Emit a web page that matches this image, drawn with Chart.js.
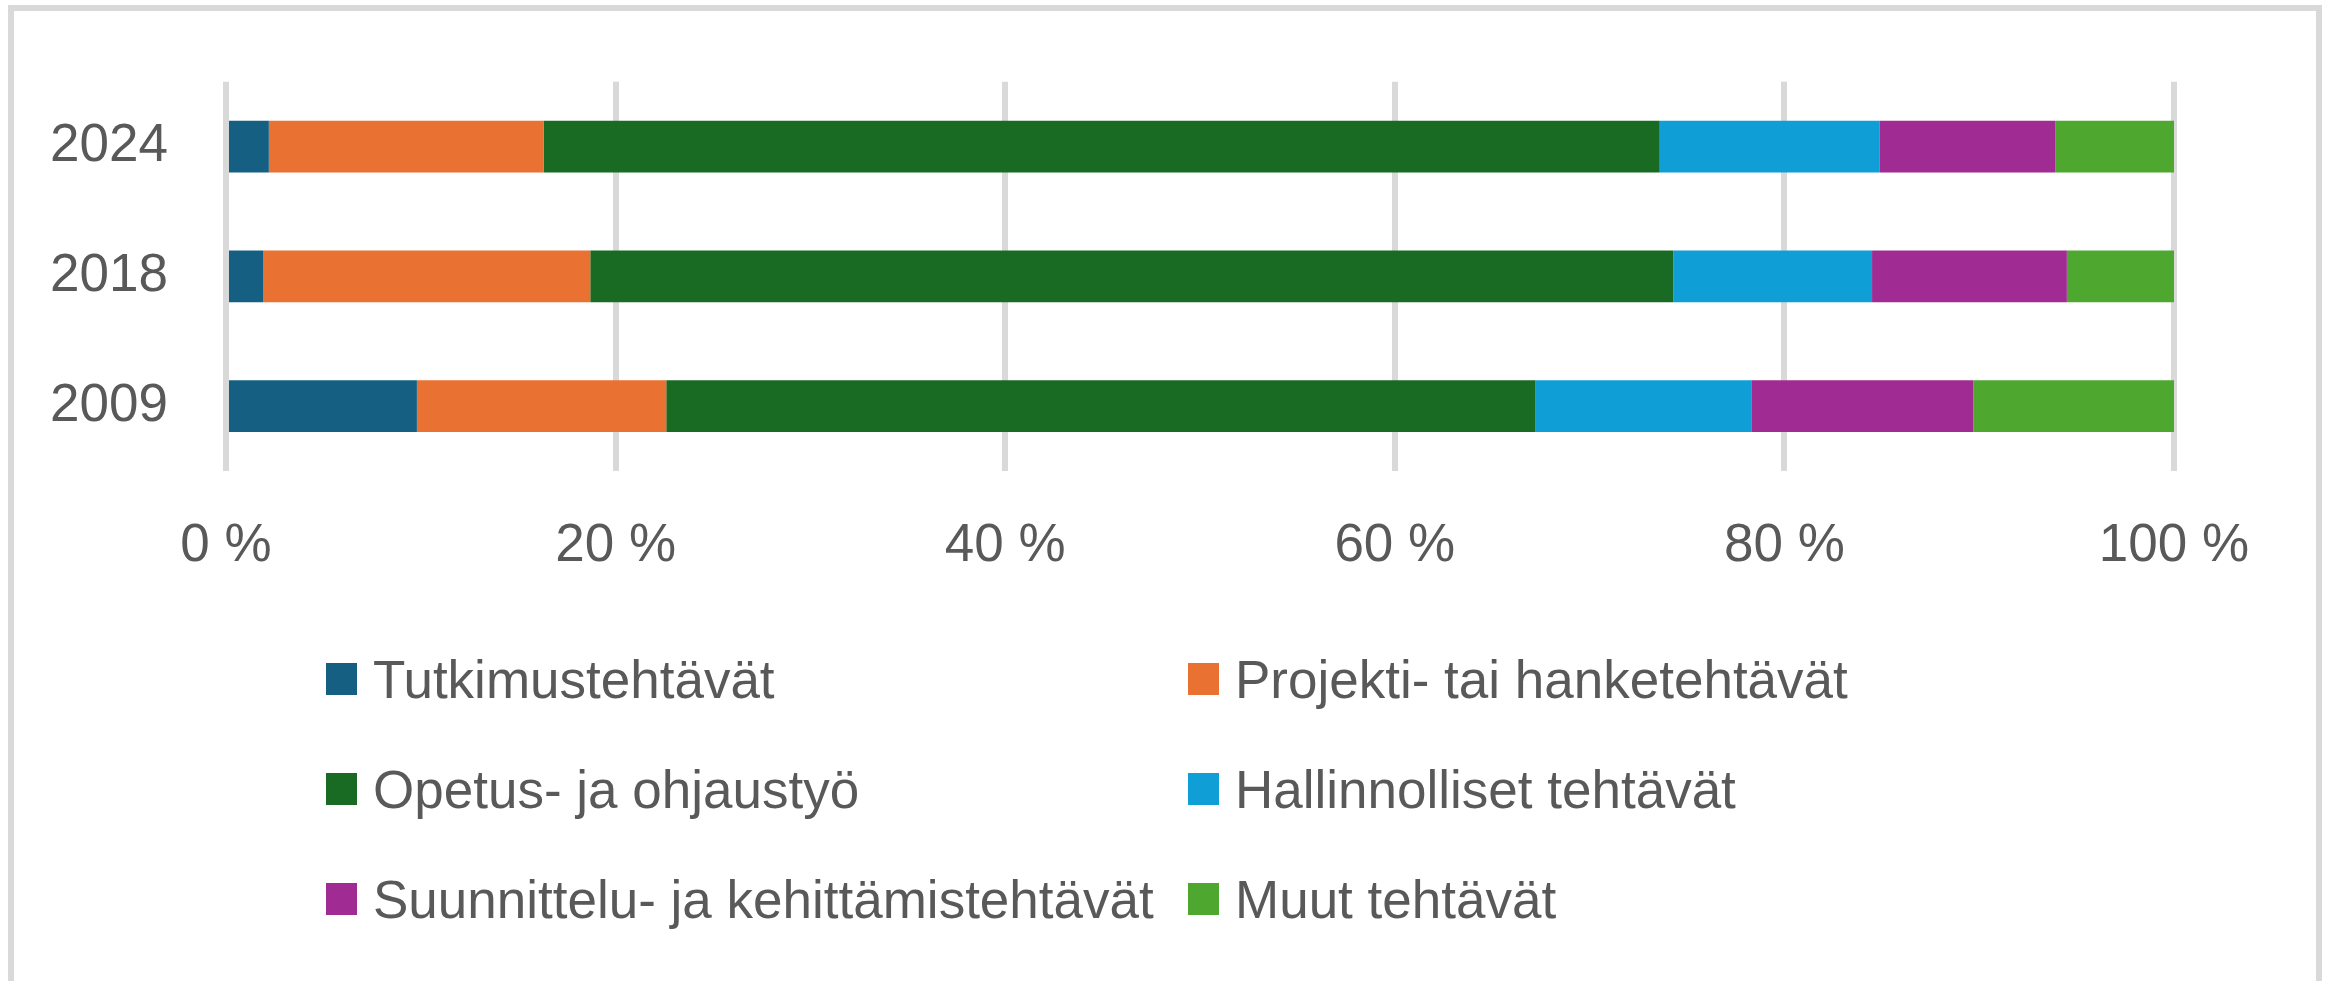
<!DOCTYPE html>
<html lang="fi">
<head>
<meta charset="utf-8">
<title>Tehtävien jakautuminen</title>
<script src="https://cdn.jsdelivr.net/npm/chart.js@4.4.1/dist/chart.umd.min.js"></script>
<style>
    html, body { margin: 0; padding: 0; background: #fff; overflow: hidden; }
    #frame {
        position: absolute; left: 8px; top: 5px;
        width: 2314px; height: 1100px;
        border: 6px solid #d9d9d9; box-sizing: border-box;
    }
    #chart-wrap { position: absolute; left: 0; top: 0; width: 2328px; height: 600px; }
    #legend {
        position: absolute; left: 326px; top: 624px;
        display: grid; grid-template-columns: 862px auto; grid-auto-rows: 110px;
        font-family: "Liberation Sans", Arial, sans-serif; font-size: 53px; color: #595959;
    }
    .legend-item { display: flex; align-items: center; white-space: nowrap; }
    .legend-box { width: 31px; height: 32px; margin-right: 16px; flex: none; }
</style>
</head>
<body>
<div id="frame"></div>
<div id="chart-wrap"><canvas id="taskChart"></canvas></div>
<div id="legend"></div>

<script>
const years = ['2024', '2018', '2009'];
const xTicks = [0, 20, 40, 60, 80, 100];

const categories = [
    'Tutkimustehtävät',
    'Projekti- tai hanketehtävät',
    'Opetus- ja ohjaustyö',
    'Hallinnolliset tehtävät',
    'Suunnittelu- ja kehittämistehtävät',
    'Muut tehtävät'
];
const colors = ['#156082', '#e97132', '#196b24', '#0f9ed5', '#a02b93', '#4ea72e'];

// osuudet prosentteina, järjestys sama kuin years
const tutkimus    = [2.2, 1.9, 9.8];
const projekti    = [14.1, 16.8, 12.8];
const opetus      = [57.3, 55.6, 44.6];
const hallinto    = [11.3, 10.2, 11.1];
const suunnittelu = [9.0, 10.0, 11.4];
const muut        = [6.1, 5.5, 10.3];

const seriesValues = [tutkimus, projekti, opetus, hallinto, suunnittelu, muut];

const textColor = '#595959';
const font = { family: '"Liberation Sans", Arial, sans-serif', size: 53 };

function buildLegend(datasets) {
    const legend = document.getElementById('legend');
    let html = '';
    for (const ds of datasets) {
        html += `<div class="legend-item">
                    <span class="legend-box" style="background:${ds.backgroundColor}"></span>
                    <span>${ds.label}</span>
                 </div>`;
    }
    legend.innerHTML = html;
}

const datasets = categories.map((name, i) => ({
    label: name,
    data: seriesValues[i],
    backgroundColor: colors[i],
    borderWidth: 0,
    barPercentage: 0.4,
    categoryPercentage: 1
}));

const ctx = document.getElementById('taskChart').getContext('2d');
new Chart(ctx, {
    type: 'bar',
    data: { labels: years, datasets: datasets },
    options: {
        indexAxis: 'y',
        responsive: true,
        maintainAspectRatio: false,
        animation: false,
        layout: { padding: { top: 81, right: 154, bottom: 0, left: 0 } },
        scales: {
            x: {
                stacked: true,
                min: xTicks[0],
                max: xTicks[xTicks.length - 1],
                afterBuildTicks: scale => { scale.ticks = xTicks.map(v => ({ value: v })); },
                ticks: {
                    callback: v => v + ' %',
                    color: textColor,
                    font: font,
                    padding: 44,
                    maxRotation: 0
                },
                grid: { color: '#d9d9d9', lineWidth: 6, drawTicks: false },
                border: { display: false },
                afterFit: scale => { scale.height = 129; }
            },
            y: {
                stacked: true,
                grid: { display: false },
                border: { display: false },
                ticks: { color: textColor, font: font, padding: 50 },
                afterFit: scale => { scale.width = 226; }
            }
        },
        plugins: {
            legend: { display: false },
            tooltip: { enabled: false }
        }
    }
});

buildLegend(datasets);
</script>
</body>
</html>
